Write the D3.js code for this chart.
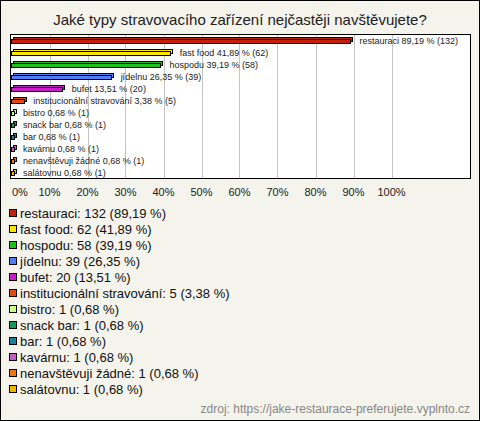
<!DOCTYPE html>
<html>
<head>
<meta charset="utf-8">
<script src="https://cdn.jsdelivr.net/npm/d3@7"></script>
<style>
  body { margin: 0; padding: 0; background: #fff; }
  svg { display: block; font-family: "Liberation Sans", Arial, sans-serif; }
</style>
</head>
<body>
<div id="chart"></div>
<script>
// data
var categories = ["restauraci", "fast food", "hospodu", "jídelnu", "bufet",
  "institucionální stravování", "bistro", "snack bar", "bar", "kavárnu",
  "nenavštěvuji žádné", "salátovnu"];
var counts = [132, 62, 58, 39, 20, 5, 1, 1, 1, 1, 1, 1];
var percents = [89.19, 41.89, 39.19, 26.35, 13.51, 3.38, 0.68, 0.68, 0.68, 0.68, 0.68, 0.68];
var colors = ["#c4210c", "#ffe600", "#1fbf1f", "#4f7ef7", "#c71fc9", "#df4a15",
  "#ccff88", "#189858", "#207f9a", "#c45ec4", "#ee7711", "#f0b800"];
var tickValues = [0, 10, 20, 30, 40, 50, 60, 70, 80, 90, 100];

((() => {
  var width = 480, height = 421;

  var svg = d3.select("#chart")
    .append("svg")
    .attr("width", width)
    .attr("height", height);

  // background + outer frame
  svg.append("rect")
    .attr("x", 0.5).attr("y", 0.5)
    .attr("width", width - 1).attr("height", height - 1)
    .attr("fill", "#f4f3ec")
    .attr("stroke", "#000");

  svg.append("text")
    .attr("x", 240).attr("y", 25)
    .attr("text-anchor", "middle")
    .attr("font-size", 15)
    .attr("fill", "#222")
    .text("Jaké typy stravovacího zařízení nejčastěji navštěvujete?");

  var x = d3.scaleLinear().domain([0, 100]).range([11.5, 391.5]);
  var y = d3.scaleBand()
    .domain(d3.range(categories.length))
    .range([35, 179]);

  var fmt = v => d3.format(".2f")(v).replace(".", ",");

  // plot area
  svg.append("rect")
    .attr("x", 10.5).attr("y", 34.5)
    .attr("width", 460).attr("height", 144)
    .attr("fill", "#fff");

  svg.append("g")
    .selectAll("line")
    .data(tickValues.slice(1))
    .enter()
    .append("line")
    .attr("x1", d => Math.round(x(d)) + 0.5)
    .attr("x2", d => Math.round(x(d)) + 0.5)
    .attr("y1", 35).attr("y2", 178)
    .attr("stroke", "#c4c4c4");

  svg.append("rect")
    .attr("x", 10.5).attr("y", 34.5)
    .attr("width", 460).attr("height", 144)
    .attr("fill", "none")
    .attr("stroke", "#000");

  // bars with a little 3d depth
  var rows = svg.append("g")
    .selectAll("g")
    .data(categories)
    .enter()
    .append("g")
    .attr("transform", (d, i) => "translate(0," + Math.round(y(i) + y.bandwidth() / 2) + ")");

  rows.append("rect")
    .attr("x", x(0) + 2)
    .attr("y", -3.5)
    .attr("width", (d, i) => Math.max(1, Math.round(x(percents[i]) - x(0))))
    .attr("height", 4)
    .attr("fill", (d, i) => colors[i])
    .attr("stroke", "#000");

  rows.append("rect")
    .attr("x", x(0))
    .attr("y", -1.5)
    .attr("width", (d, i) => Math.max(1, Math.round(x(percents[i]) - x(0))))
    .attr("height", 4)
    .attr("fill", (d, i) => colors[i])
    .attr("stroke", "#000");

  rows.append("text")
    .attr("x", (d, i) => x(percents[i]) + 9)
    .attr("y", 3)
    .attr("font-size", 9)
    .attr("fill", "#222")
    .text((d, i) => d + " " + fmt(percents[i]) + " % (" + counts[i] + ")");

  // axis labels
  svg.append("g")
    .selectAll("text")
    .data(tickValues)
    .enter()
    .append("text")
    .attr("x", d => d === 0 ? x(d) + 0.5 : x(d))
    .attr("y", 196)
    .attr("text-anchor", d => d === 0 ? "start" : "middle")
    .attr("font-size", 11)
    .attr("fill", "#222")
    .text(d => d + "%");

  // legend
  var legend = svg.append("g")
    .selectAll("g")
    .data(categories)
    .enter()
    .append("g")
    .attr("transform", (d, i) => "translate(0," + (213 + 16 * i) + ")");

  legend.append("rect")
    .attr("x", 9.5).attr("y", -3.5)
    .attr("width", 7).attr("height", 7)
    .attr("fill", (d, i) => colors[i])
    .attr("stroke", "#000");

  legend.append("text")
    .attr("x", 20).attr("y", 5)
    .attr("font-size", 13)
    .attr("fill", "#111")
    .text((d, i) => d + ": " + counts[i] + " (" + fmt(percents[i]) + " %)");

  svg.append("text")
    .attr("x", 470).attr("y", 413)
    .attr("text-anchor", "end")
    .attr("font-size", 12)
    .attr("fill", "#888")
    .text("zdroj: https://jake-restaurace-preferujete.vyplnto.cz");
})());
</script>
</body>
</html>
